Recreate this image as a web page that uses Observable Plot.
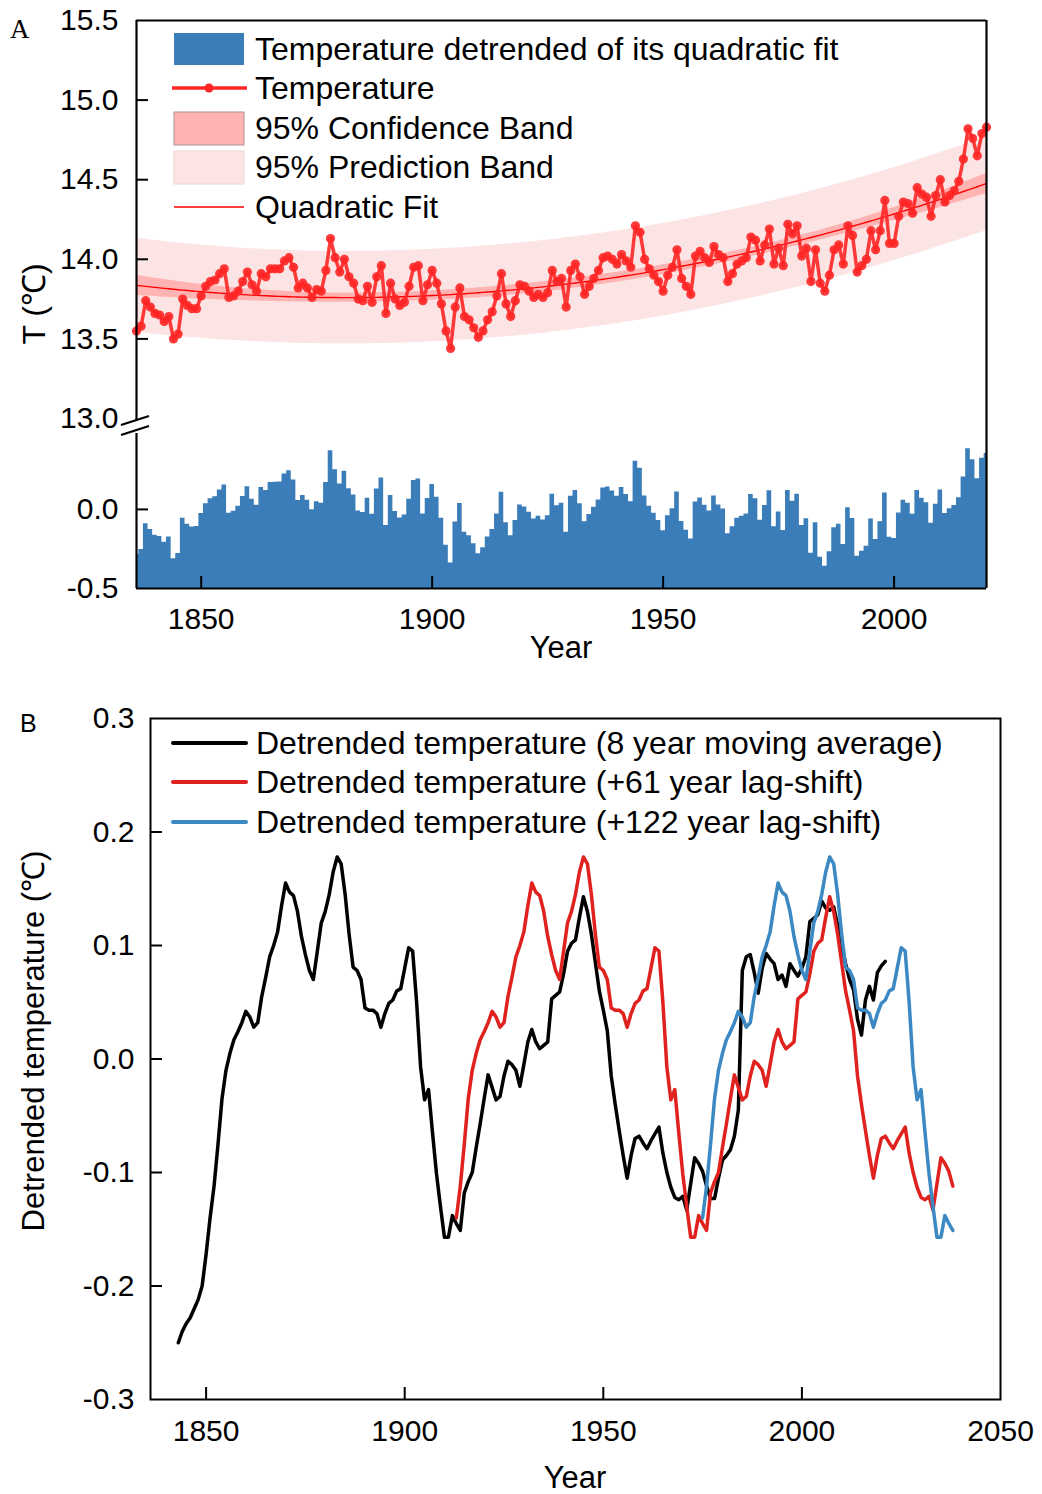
<!DOCTYPE html>
<html>
<head>
<meta charset="utf-8">
<script src="https://cdn.jsdelivr.net/npm/d3@7"></script>
<script src="https://cdn.jsdelivr.net/npm/@observablehq/plot@0.6"></script>
<style>
  body { margin: 0; background: #fff; }
  #fig { position: relative; width: 1042px; height: 1494px; font-family: "Liberation Sans", Arial, sans-serif; color: #000; }
  #fig > div, #fig > svg { position: absolute; }
  .t { white-space: nowrap; line-height: 1; }
</style>
</head>
<body>
<div id="fig"></div>
<script>
// annual mean temperature, 1836-2020 (panel A)
const firstYear = 1836
const temperature = [
  13.55, 13.58, 13.74, 13.70, 13.66, 13.65, 13.61, 13.64, 13.50, 13.53,
  13.75, 13.71, 13.69, 13.69, 13.77, 13.83, 13.86, 13.87, 13.91, 13.94,
  13.76, 13.77, 13.80, 13.86, 13.92, 13.84, 13.80, 13.91, 13.89, 13.94,
  13.94, 13.94, 13.99, 14.01, 13.95, 13.82, 13.85, 13.82, 13.76, 13.81,
  13.80, 13.93, 14.13, 14.01, 13.92, 14.00, 13.89, 13.85, 13.75, 13.74,
  13.83, 13.73, 13.89, 13.96, 13.66, 13.85, 13.75, 13.71, 13.73, 13.83,
  13.95, 13.96, 13.74, 13.84, 13.93, 13.85, 13.72, 13.55, 13.44, 13.70,
  13.82, 13.64, 13.62, 13.57, 13.51, 13.55, 13.62, 13.67, 13.77, 13.91,
  13.72, 13.64, 13.74, 13.84, 13.83, 13.80, 13.76, 13.78, 13.76, 13.79,
  13.93, 13.86, 13.88, 13.70, 13.93, 13.97, 13.89, 13.78, 13.83, 13.88,
  13.93, 14.01, 14.02, 14.00, 13.97, 14.03, 13.99, 13.95, 14.21, 14.17,
  14.00, 13.94, 13.90, 13.86, 13.80, 13.90, 13.95, 14.06, 13.88, 13.83,
  13.78, 14.02, 14.05, 14.01, 13.98, 14.08, 14.03, 14.01, 13.86, 13.91,
  13.97, 13.99, 14.01, 14.14, 14.12, 13.99, 14.09, 14.19, 13.97, 14.07,
  13.96, 14.22, 14.16, 14.21, 14.02, 14.07, 13.86, 14.06, 13.85, 13.80,
  13.90, 14.06, 14.09, 13.97, 14.21, 14.15, 13.92, 13.96, 14.00, 14.18,
  14.06, 14.18, 14.37, 14.10, 14.10, 14.27, 14.36, 14.35, 14.29, 14.45,
  14.41, 14.39, 14.27, 14.40, 14.50, 14.36, 14.40, 14.43, 14.49, 14.63,
  14.82, 14.76, 14.65, 14.79, 14.83
]

// detrended temperature, 8 year moving average, 1843-2021 (panel B)
const maFirstYear = 1843
const movingAvg = [
  -0.250, -0.240, -0.233, -0.228, -0.220, -0.212, -0.200, -0.172, -0.140, -0.112,
  -0.075, -0.035, -0.010, 0.005, 0.017, 0.024, 0.032, 0.042, 0.037, 0.028,
  0.032, 0.055, 0.072, 0.090, 0.100, 0.112, 0.135, 0.155, 0.147, 0.144,
  0.130, 0.108, 0.092, 0.078, 0.070, 0.095, 0.120, 0.130, 0.145, 0.165,
  0.178, 0.172, 0.145, 0.110, 0.081, 0.078, 0.070, 0.045, 0.043, 0.043,
  0.040, 0.028, 0.040, 0.049, 0.052, 0.060, 0.062, 0.080, 0.098, 0.095,
  0.050, -0.007, -0.036, -0.027, -0.065, -0.101, -0.130, -0.157, -0.157, -0.138,
  -0.145, -0.151, -0.118, -0.108, -0.100, -0.078, -0.057, -0.035, -0.014, -0.025,
  -0.036, -0.033, -0.015, -0.002, -0.005, -0.010, -0.024, -0.005, 0.015, 0.026,
  0.015, 0.009, 0.012, 0.015, 0.053, 0.056, 0.059, 0.075, 0.095, 0.102,
  0.105, 0.125, 0.143, 0.130, 0.110, 0.085, 0.060, 0.043, 0.025, -0.015,
  -0.040, -0.063, -0.085, -0.105, -0.085, -0.070, -0.068, -0.074, -0.079, -0.072,
  -0.066, -0.060, -0.083, -0.100, -0.113, -0.122, -0.124, -0.121, -0.133, -0.110,
  -0.087, -0.092, -0.099, -0.112, -0.123, -0.123, -0.105, -0.089, -0.085, -0.080,
  -0.068, -0.045, 0.078, 0.090, 0.092, 0.076, 0.058, 0.080, 0.093, 0.088,
  0.084, 0.070, 0.074, 0.064, 0.084, 0.078, 0.073, 0.080, 0.090, 0.121,
  0.124, 0.127, 0.139, 0.133, 0.131, 0.134, 0.118, 0.100, 0.084, 0.070,
  0.061, 0.035, 0.021, 0.052, 0.064, 0.052, 0.076, 0.082, 0.086
]

// lag-shifted copies as drawn: source years and shift
const redSpan = [1851, 1976], redShift = 62
const blueSpan = [1851, 1914], blueShift = 124

const tempTicks = [13.0, 13.5, 14.0, 14.5, 15.0, 15.5]
const detTicksA = [-0.5, 0.0]
const yearTicksA = [1850, 1900, 1950, 2000]
const detTicksB = [-0.3, -0.2, -0.1, 0.0, 0.1, 0.2, 0.3]
const yearTicksB = [1850, 1900, 1950, 2000, 2050]

const legendA = ["Temperature detrended of its quadratic fit", "Temperature", "95% Confidence Band", "95% Prediction Band", "Quadratic Fit"]
const legendB = ["Detrended temperature (8 year moving average)", "Detrended temperature (+61 year lag-shift)", "Detrended temperature (+122 year lag-shift)"]

const blue = "#3b7db9", red = "#ff2525"
const lineBlack = "#000000", lineRed = "#e0221f", lineBlue = "#3b88c3"
const font = "'Liberation Sans', Arial, sans-serif"
const fmt = d => d.toFixed(1)

// ---- quadratic fit with 95% bands
const temp = temperature.map((t, i) => ({year: firstYear + i, t}))
const xm = d3.mean(temp, d => d.year)
const row = y => [1, y - xm, (y - xm) ** 2]
const XtX = [[0, 0, 0], [0, 0, 0], [0, 0, 0]], Xty = [0, 0, 0]
temp.forEach(d => {
  const r = row(d.year)
  for (let i = 0; i < 3; i++) {
    Xty[i] += r[i] * d.t
    for (let j = 0; j < 3; j++) XtX[i][j] += r[i] * r[j]
  }
})
function invert3(m) {
  const [[a, b, c], [d, e, f], [g, h, i]] = m
  const det = a * (e * i - f * h) - b * (d * i - f * g) + c * (d * h - e * g)
  return [
    [(e * i - f * h) / det, (c * h - b * i) / det, (b * f - c * e) / det],
    [(f * g - d * i) / det, (a * i - c * g) / det, (c * d - a * f) / det],
    [(d * h - e * g) / det, (b * g - a * h) / det, (a * e - b * d) / det]
  ]
}
const inv = invert3(XtX)
const coef = [0, 1, 2].map(i => inv[i][0] * Xty[0] + inv[i][1] * Xty[1] + inv[i][2] * Xty[2])
const predict = y => { const r = row(y); return coef[0] * r[0] + coef[1] * r[1] + coef[2] * r[2] }
const n = temp.length
const s2 = d3.sum(temp, d => (d.t - predict(d.year)) ** 2) / (n - 3)
const tq = 1.973
const fit = temp.map(d => {
  const r = row(d.year)
  let q = 0
  for (let i = 0; i < 3; i++) for (let j = 0; j < 3; j++) q += r[i] * inv[i][j] * r[j]
  const f = predict(d.year), ci = tq * Math.sqrt(s2 * q), pi = tq * Math.sqrt(s2 * (1 + q))
  return {year: d.year, fit: f, clo: f - ci, chi: f + ci, plo: f - pi, phi: f + pi}
})
const detr = temp.map(d => ({year: d.year, d: d.t - predict(d.year)}))

const ma = movingAvg.map((v, i) => ({year: maFirstYear + i, v}))
const redLine = ma.filter(d => d.year >= redSpan[0] && d.year <= redSpan[1]).map(d => ({year: d.year + redShift, v: d.v}))
const blueLine = ma.filter(d => d.year >= blueSpan[0] && d.year <= blueSpan[1]).map(d => ({year: d.year + blueShift, v: d.v}))

const fig = document.getElementById("fig")
const baseStyle = {fontFamily: font, fontSize: "30px", background: "transparent", overflow: "visible", color: "black"}

function place(node, left, top) {
  node.style.position = "absolute"
  node.style.left = left + "px"
  node.style.top = top + "px"
  fig.appendChild(node)
}
function addText(txt, x, y, size, {anchor = "start", rotate = false, family = null} = {}) {
  const el = document.createElement("div")
  el.className = "t"
  el.textContent = txt
  el.style.fontSize = size + "px"
  if (family) el.style.fontFamily = family
  const tx = anchor === "middle" ? "-50%" : "0"
  el.style.transform = `translate(${tx}, -50%)` + (rotate ? " rotate(-90deg)" : "")
  place(el, x, y)
}

// ---- panel A, upper part (temperature)
const innerA = 850
const upper = Plot.plot({
  width: 1042, height: 430,
  marginLeft: 136, marginRight: 56, marginTop: 20, marginBottom: 12,
  style: baseStyle,
  x: {domain: [1836, 2020], axis: null},
  y: {domain: [13, 15.5], axis: null},
  marks: [
    Plot.areaY(fit, {x: "year", y1: "plo", y2: "phi", fill: "#fde4e4"}),
    Plot.areaY(fit, {x: "year", y1: "clo", y2: "chi", fill: "#ffb3b3"}),
    Plot.lineY(fit, {x: "year", y: "fit", stroke: "#ff0000", strokeWidth: 1.4}),
    Plot.lineY(temp, {x: "year", y: "t", stroke: red, strokeOpacity: 0.9, strokeWidth: 3.5}),
    Plot.dot(temp, {x: "year", y: "t", r: 4.6, fill: red, fillOpacity: 0.9}),
    Plot.ruleX([1836], {stroke: "black", strokeWidth: 2.2, insetBottom: -2}),
    Plot.ruleX([2020], {stroke: "black", strokeWidth: 2.2}),
    Plot.ruleY([15.5], {stroke: "black", strokeWidth: 2.2}),
    Plot.tickY(tempTicks.slice(1, -1), {y: d => d, stroke: "black", strokeWidth: 2, insetRight: innerA - 12}),
    Plot.axisY(tempTicks, {tickSize: 0, tickPadding: 18, tickFormat: fmt, fontSize: 30, label: null})
  ]
})
place(upper, 0, 0)

// ---- panel A, lower part (detrended values, filled up from the axis floor)
const lower = Plot.plot({
  width: 1042, height: 252,
  marginLeft: 136, marginRight: 56, marginTop: 15, marginBottom: 82,
  style: baseStyle,
  x: {domain: [1836, 2020], axis: null},
  y: {domain: [-0.5, 0.48], axis: null},
  marks: [
    Plot.areaY(detr, {x: "year", y1: detTicksA[0], y2: "d", curve: "step", fill: blue}),
    Plot.ruleX([1836], {stroke: "black", strokeWidth: 2.2}),
    Plot.ruleX([2020], {stroke: "black", strokeWidth: 2.2, insetTop: -15}),
    Plot.ruleY([-0.5], {stroke: "black", strokeWidth: 2.2}),
    Plot.tickY(detTicksA.slice(1), {y: d => d, stroke: "black", strokeWidth: 2, insetRight: innerA - 12}),
    Plot.tickX(yearTicksA, {x: d => d, stroke: "black", strokeWidth: 2, insetTop: 155 - 12}),
    Plot.axisY(detTicksA, {tickSize: 0, tickPadding: 18, tickFormat: fmt, fontSize: 30, label: null}),
    Plot.axisX(yearTicksA, {tickSize: 0, tickPadding: 19, tickFormat: d => String(d), fontSize: 30, label: null})
  ]
})
place(lower, 0, 418)

// ---- panel B
const innerBw = 850, innerBh = 681
const panelB = Plot.plot({
  width: 1042, height: 794,
  marginLeft: 150, marginRight: 42, marginTop: 18, marginBottom: 95,
  style: baseStyle,
  x: {domain: [1836, 2050], axis: null},
  y: {domain: [-0.3, 0.3], axis: null},
  marks: [
    Plot.lineY(ma, {x: "year", y: "v", stroke: lineBlack, strokeWidth: 3.5}),
    Plot.lineY(redLine, {x: "year", y: "v", stroke: lineRed, strokeWidth: 3.5}),
    Plot.lineY(blueLine, {x: "year", y: "v", stroke: lineBlue, strokeWidth: 3.5}),
    Plot.frame({stroke: "black", strokeWidth: 2}),
    Plot.tickY(detTicksB.slice(1, -1), {y: d => d, stroke: "black", strokeWidth: 2, insetRight: innerBw - 12}),
    Plot.tickX(yearTicksB.slice(0, -1), {x: d => d, stroke: "black", strokeWidth: 2, insetTop: innerBh - 12}),
    Plot.axisY(detTicksB, {tickSize: 0, tickPadding: 16, tickFormat: fmt, fontSize: 30, label: null}),
    Plot.axisX(yearTicksB, {tickSize: 0, tickPadding: 20, tickFormat: d => String(d), fontSize: 30, label: null})
  ]
})
place(panelB, 0, 700)

// ---- decorations: axis break and legend keys
const deco = d3.create("svg").attr("width", 1042).attr("height", 1494).style("pointer-events", "none")
const brk = deco.append("g").attr("stroke", "black").attr("stroke-width", 2.2)
brk.append("line").attr("x1", 121).attr("y1", 425).attr("x2", 149).attr("y2", 416)
brk.append("line").attr("x1", 121).attr("y1", 435).attr("x2", 149).attr("y2", 426)

const rowsA = [49, 88, 128, 167, 207]
deco.append("rect").attr("x", 174).attr("y", rowsA[0] - 16).attr("width", 70).attr("height", 32).attr("fill", blue)
deco.append("line").attr("x1", 172).attr("x2", 247).attr("y1", rowsA[1]).attr("y2", rowsA[1]).attr("stroke", red).attr("stroke-width", 3.5)
deco.append("circle").attr("cx", 209).attr("cy", rowsA[1]).attr("r", 4.5).attr("fill", red)
deco.append("rect").attr("x", 174).attr("y", rowsA[2] - 16).attr("width", 70).attr("height", 33).attr("fill", "#ffb3b3").attr("stroke", "#b09090").attr("stroke-width", 1)
deco.append("rect").attr("x", 174).attr("y", rowsA[3] - 16).attr("width", 70).attr("height", 33).attr("fill", "#fde4e4").attr("stroke", "#ead6d6").attr("stroke-width", 1)
deco.append("line").attr("x1", 174).attr("x2", 244).attr("y1", rowsA[4]).attr("y2", rowsA[4]).attr("stroke", "#ff0000").attr("stroke-width", 1.4)

const rowsB = [743, 782, 822]
;[lineBlack, lineRed, lineBlue].forEach((c, i) => {
  deco.append("line").attr("x1", 173).attr("x2", 246).attr("y1", rowsB[i]).attr("y2", rowsB[i]).attr("stroke", c).attr("stroke-width", 4).attr("stroke-linecap", "round")
})
place(deco.node(), 0, 0)

legendA.forEach((s, i) => addText(s, 255, rowsA[i], 32))
legendB.forEach((s, i) => addText(s, 256, rowsB[i], 32))

// ---- titles and panel letters
addText("A", 10, 29, 27, {family: "'Liberation Serif', 'Times New Roman', serif"})
addText("B", 20, 723, 25)
addText("T (℃)", 34, 304, 32, {anchor: "middle", rotate: true})
addText("Year", 561, 647, 31, {anchor: "middle"})
addText("Detrended temperature (℃)", 33, 1041, 31, {anchor: "middle", rotate: true})
addText("Year", 575, 1477, 31, {anchor: "middle"})
</script>
</body>
</html>
